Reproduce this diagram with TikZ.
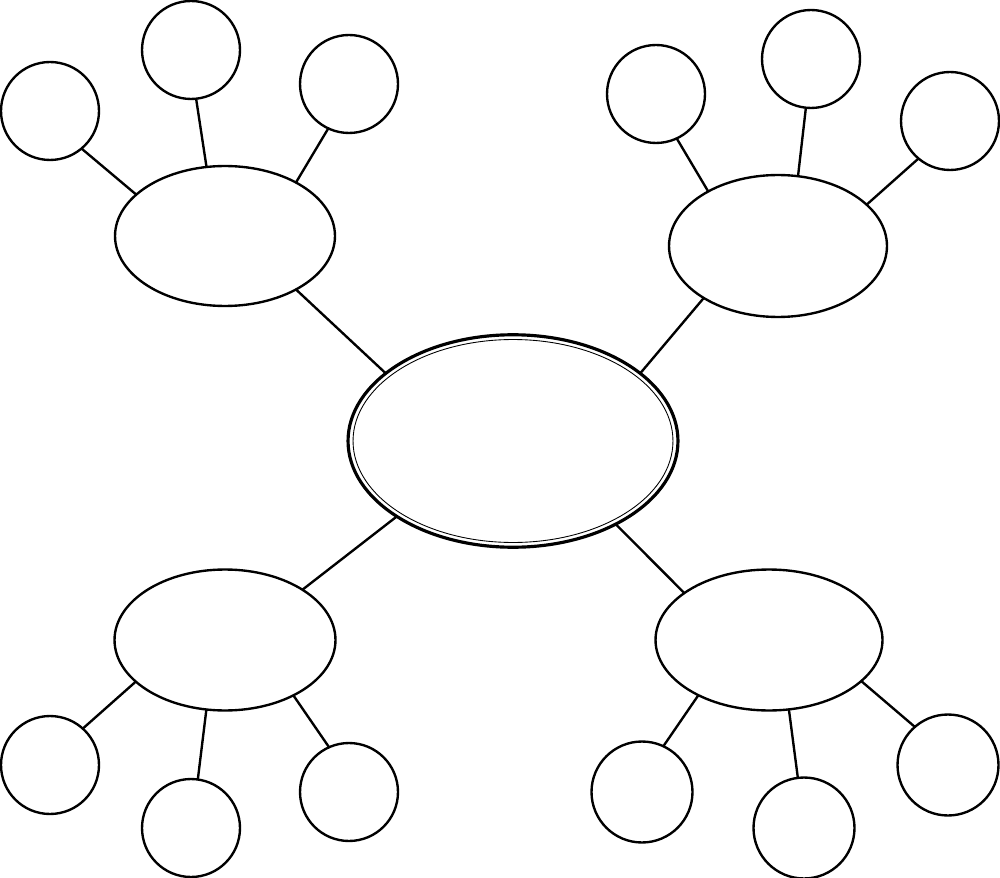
\documentclass[tikz,border=0pt]{standalone}
\usetikzlibrary{shapes.geometric}
\begin{document}
\begin{tikzpicture}[x=0.02cm,y=-0.02cm,line width=1.35pt]
        \tikzstyle{blob}=[draw,ellipse,inner sep=0pt,outer sep=0pt]
        \tikzstyle{leaf}=[draw,circle,inner sep=0pt,outer sep=0pt,minimum size=1.96cm]

        \useasboundingbox (0,0) rectangle (1000,878);

        % middle
        \node[blob, line width=1.8pt, minimum width=6.6cm, minimum height=4.25cm] (hub) at (513,441) {};
        \draw[line width=0.5pt] (hub.center) ellipse [x radius=3.2cm, y radius=2.03cm];

        % four branches
        \node[blob, minimum width=4.4cm,  minimum height=2.8cm]  (tl) at (225,236) {};
        \node[blob, minimum width=4.36cm, minimum height=2.84cm] (tr) at (778,246) {};
        \node[blob, minimum width=4.42cm, minimum height=2.82cm] (bl) at (225,640) {};
        \node[blob, minimum width=4.54cm, minimum height=2.82cm] (br) at (769,640) {};

        % leaves
        \node[leaf] (tl1) at (50,111)  {};
        \node[leaf] (tl2) at (191,50)  {};
        \node[leaf] (tl3) at (349,84)  {};

        \node[leaf] (tr1) at (656,94)  {};
        \node[leaf] (tr2) at (811,59)  {};
        \node[leaf] (tr3) at (950,121) {};

        \node[leaf] (bl1) at (50,765)  {};
        \node[leaf] (bl2) at (191,828) {};
        \node[leaf] (bl3) at (349,792) {};

        \node[leaf, minimum size=2.02cm] (br1) at (642,792) {};
        \node[leaf, minimum size=2.02cm] (br2) at (804,828) {};
        \node[leaf, minimum size=2.02cm] (br3) at (948,765) {};

        \path
            (tl.323)  edge (hub.152)
            (tr.215)  edge (hub.28)
            (bl.33)   edge (hub.213)
            (br.151)  edge (hub.321)

            (tl1.310) edge (tl.155)
            (tl2.276) edge (tl.105)
            (tl3.245) edge (tl.37)

            (tr1.295) edge (tr.142)
            (tr2.264) edge (tr.74)
            (tr3.230) edge (tr.25)

            (bl1.48)  edge (bl.205)
            (bl2.82)  edge (bl.255)
            (bl3.114) edge (bl.321)

            (br1.65)  edge (br.218)
            (br2.97)  edge (br.286)
            (br3.131) edge (br.336)
        ;
\end{tikzpicture}
\end{document}
